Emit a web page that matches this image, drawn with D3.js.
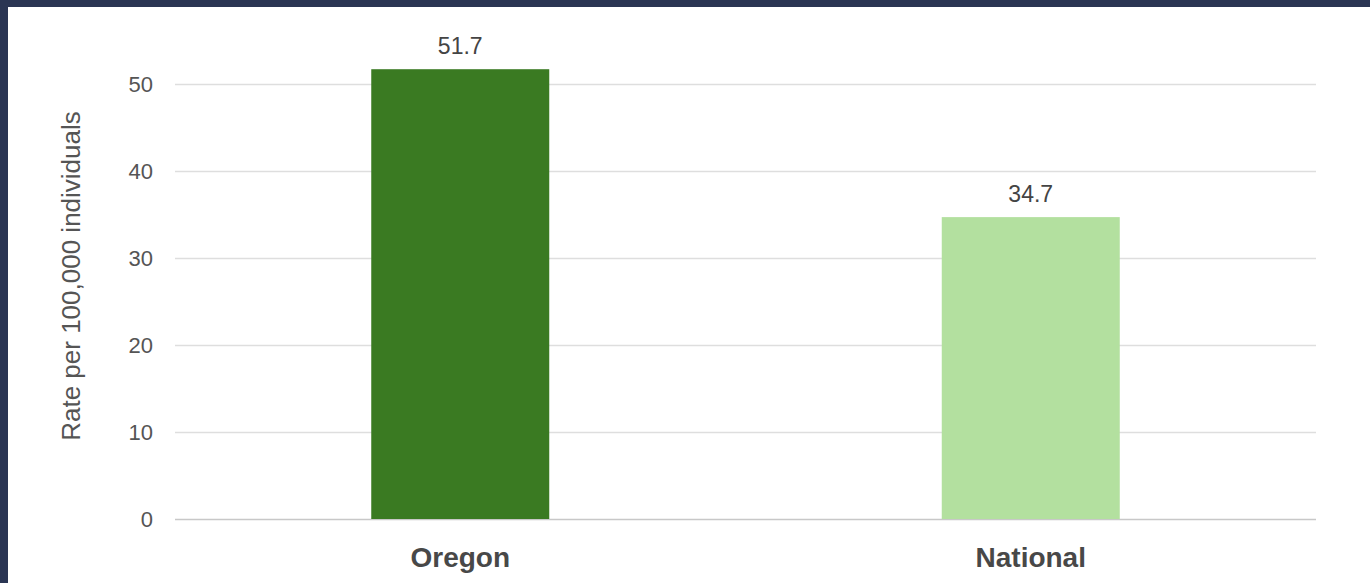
<!DOCTYPE html>
<html>
<head>
<meta charset="utf-8">
<script src="https://cdn.jsdelivr.net/npm/d3@7"></script>
<style>
  body { margin: 0; background: #fff; }
  svg { display: block; }
</style>
</head>
<body>
<svg id="chart" width="1370" height="583"></svg>
<script>
// data
const categories = ["Oregon", "National"]
const rates = [51.7, 34.7]
const barColors = ["#3a7a22", "#b3e09f"]
const yTicks = [0, 10, 20, 30, 40, 50]

const svg = d3.select("#chart")
const font = "Liberation Sans, Arial, sans-serif"

// dark frame on top and left
svg.append("rect").attr("x", 0).attr("y", 0).attr("width", 1370).attr("height", 583).attr("fill", "#2a3553")
svg.append("rect").attr("x", 8).attr("y", 7).attr("width", 1362).attr("height", 576).attr("fill", "#fff")

const plotLeft = 175, plotRight = 1316, plotTop = 84, plotBottom = 519

const x = d3.scaleBand()
    .domain(categories)
    .range([plotLeft, plotRight])
    .paddingInner(0.688)
    .paddingOuter(0.344)

const y = d3.scaleLinear()
    .domain([0, 50])
    .range([plotBottom, plotTop])

// gridlines
svg.append("g")
    .selectAll("line")
    .data(yTicks)
    .join("line")
    .attr("x1", plotLeft)
    .attr("x2", plotRight)
    .attr("y1", d => y(d) + 0.5)
    .attr("y2", d => y(d) + 0.5)
    .attr("stroke", d => d === 0 ? "#c8c8c8" : "#dedede")
    .attr("stroke-width", 1.5)

// y axis labels
const yAxis = svg.append("g")
    .attr("transform", `translate(${plotLeft}, 0)`)
    .call(d3.axisLeft(y).tickValues(yTicks).tickSize(0).tickPadding(22))
yAxis.select(".domain").remove()
yAxis.selectAll("text")
    .attr("font-family", font)
    .attr("font-size", 22)
    .attr("fill", "#555")

// axis title
svg.append("text")
    .attr("transform", `translate(80, 276) rotate(-90)`)
    .attr("text-anchor", "middle")
    .attr("font-family", font)
    .attr("font-size", 26)
    .attr("fill", "#555")
    .text("Rate per 100,000 individuals")

// bars
svg.append("g")
    .selectAll("rect")
    .data(categories)
    .join("rect")
    .attr("x", d => x(d))
    .attr("y", (d, i) => y(rates[i]))
    .attr("width", x.bandwidth())
    .attr("height", (d, i) => y(0) - y(rates[i]))
    .attr("fill", (d, i) => barColors[i])

// value labels
svg.append("g")
    .selectAll("text")
    .data(categories)
    .join("text")
    .attr("x", d => x(d) + x.bandwidth() / 2)
    .attr("y", (d, i) => y(rates[i]) - 15)
    .attr("text-anchor", "middle")
    .attr("font-family", font)
    .attr("font-size", 23)
    .attr("fill", "#444")
    .text((d, i) => rates[i].toFixed(1))

// category labels
svg.append("g")
    .selectAll("text")
    .data(categories)
    .join("text")
    .attr("x", d => x(d) + x.bandwidth() / 2)
    .attr("y", 567)
    .attr("text-anchor", "middle")
    .attr("font-family", font)
    .attr("font-size", 28)
    .attr("font-weight", "bold")
    .attr("fill", "#484848")
    .text(d => d)
</script>
</body>
</html>
